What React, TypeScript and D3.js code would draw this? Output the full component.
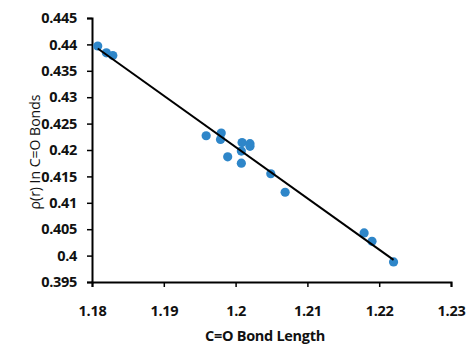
import { useEffect, useRef } from "react"
import * as d3 from "d3"

// bond length (x) and rho(r) (y) for each C=O bond
const bondLength = [
  1.1808, 1.182, 1.1829, 1.1959, 1.198, 1.1979, 1.2009, 1.202, 1.202, 1.2008, 1.1989, 1.2008,
  1.2049, 1.2069, 1.2179, 1.219, 1.222,
]
const rho = [
  0.4397, 0.4384, 0.4379, 0.4227, 0.4232, 0.422, 0.4214, 0.4212, 0.4207, 0.4198, 0.4187, 0.4175,
  0.4155, 0.412, 0.4043, 0.4027, 0.3988,
]
const xTicks = [1.18, 1.19, 1.2, 1.21, 1.22, 1.23]
const yTicks = [0.395, 0.4, 0.405, 0.41, 0.415, 0.42, 0.425, 0.43, 0.435, 0.44, 0.445]

export default function App() {
  const svgRef = useRef<SVGSVGElement | null>(null)

  useEffect(() => {
    if (!svgRef.current) return
    document.body.style.margin = "0"

    const svg = d3.select(svgRef.current)
    svg.selectAll("*").remove()

    const width = 468
    const height = 344
    const margin = { top: 18, right: 17, bottom: 62, left: 92 }

    const x = d3.scaleLinear().domain([1.18, 1.23]).range([margin.left, width - margin.right])
    const y = d3.scaleLinear().domain([0.395, 0.445]).range([height - margin.bottom, margin.top])

    const font = "'Open Sans', sans-serif"

    // axes
    const xAxis = svg
      .append("g")
      .attr("transform", `translate(0,${height - margin.bottom})`)
      .call(d3.axisBottom(x).tickValues(xTicks).tickFormat((d) => `${+d}`).tickSize(5).tickPadding(19))
    const yAxis = svg
      .append("g")
      .attr("transform", `translate(${margin.left},0)`)
      .call(d3.axisLeft(y).tickValues(yTicks).tickFormat((d) => `${+(+d).toFixed(3)}`).tickSize(5).tickPadding(10))

    ;[xAxis, yAxis].forEach((ax) => {
      ax.select(".domain").attr("stroke", "#000").attr("stroke-width", 2)
      ax.selectAll(".tick line").attr("stroke", "#000").attr("stroke-width", 1.5)
      ax.selectAll(".tick text")
        .attr("fill", "#111")
        .attr("font-family", font)
        .attr("font-size", 14.5)
        .attr("font-weight", 700)
        .attr("letter-spacing", -0.3)
    })

    // trend line (least squares fit)
    const n = bondLength.length
    const mx = d3.mean(bondLength) as number
    const my = d3.mean(rho) as number
    let sxy = 0
    let sxx = 0
    for (let i = 0; i < n; i++) {
      sxy += (bondLength[i] - mx) * (rho[i] - my)
      sxx += (bondLength[i] - mx) ** 2
    }
    const slope = sxy / sxx
    const intercept = my - slope * mx
    const x0 = d3.min(bondLength) as number
    const x1 = d3.max(bondLength) as number

    // points
    svg
      .append("g")
      .selectAll("circle")
      .data(bondLength)
      .enter()
      .append("circle")
      .attr("cx", (d) => x(d))
      .attr("cy", (d, i) => y(rho[i]))
      .attr("r", 4.6)
      .attr("fill", "#2e86c9")

    svg
      .append("line")
      .attr("x1", x(x0))
      .attr("y1", y(slope * x0 + intercept))
      .attr("x2", x(x1))
      .attr("y2", y(slope * x1 + intercept))
      .attr("stroke", "#000")
      .attr("stroke-width", 2)

    // axis titles
    svg
      .append("text")
      .attr("x", 265)
      .attr("y", 341)
      .attr("text-anchor", "middle")
      .attr("font-family", font)
      .attr("font-size", 14.5)
      .attr("font-weight", 700)
      .attr("letter-spacing", -0.3)
      .attr("fill", "#111")
      .text("C=O Bond Length")

    svg
      .append("text")
      .attr("transform", `translate(40,152) rotate(-90)`)
      .attr("text-anchor", "middle")
      .attr("font-family", font)
      .attr("font-size", 14)
      .attr("fill", "#111")
      .text("ρ(r) In C=O Bonds")
  }, [])

  return (
    <svg
      ref={svgRef}
      width={468}
      height={344}
      style={{ position: "absolute", left: 0, top: 0, background: "#fff" }}
    ></svg>
  )
}
